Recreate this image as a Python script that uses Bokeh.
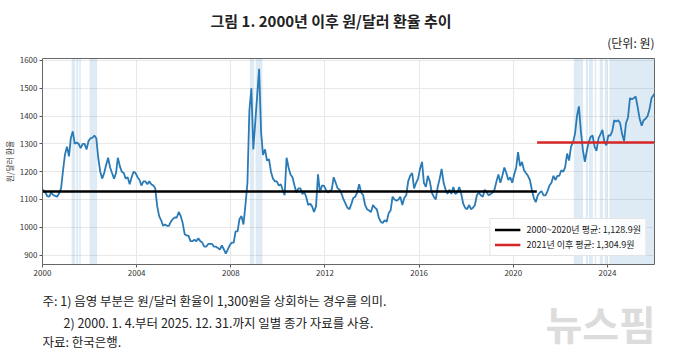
import pandas as pd
from bokeh.plotting import figure
from bokeh.layouts import column
from bokeh.models import Label, FixedTicker, DatetimeTickFormatter, Range1d, ColumnDataSource
from bokeh.embed import file_html
from bokeh.resources import INLINE

# ---- data: month-by-month USD/KRW ----
krw_2000 = [1135, 1125, 1112, 1110, 1125, 1116, 1113, 1110, 1122, 1140, 1205, 1262]
krw_2001 = [1290, 1255, 1320, 1345, 1300, 1305, 1300, 1285, 1300, 1300, 1280, 1310]
krw_2002 = [1320, 1322, 1330, 1320, 1250, 1200, 1175, 1195, 1225, 1250, 1215, 1195]
krw_2003 = [1175, 1195, 1250, 1220, 1200, 1195, 1175, 1180, 1155, 1180, 1200, 1195]
krw_2004 = [1180, 1170, 1150, 1165, 1165, 1155, 1165, 1155, 1150, 1140, 1075, 1040]
krw_2005 = [1025, 1005, 1010, 1005, 1005, 1020, 1030, 1035, 1035, 1055, 1040, 1015]
krw_2006 = [975, 970, 970, 950, 950, 955, 950, 960, 950, 945, 930, 930]
krw_2007 = [940, 940, 940, 930, 930, 925, 920, 935, 920, 905, 920, 935]
krw_2008 = [945, 945, 985, 985, 1030, 1040, 1010, 1080, 1160, 1420, 1500, 1280]
krw_2009 = [1380, 1480, 1570, 1340, 1260, 1280, 1240, 1245, 1200, 1175, 1165, 1165]
krw_2010 = [1150, 1155, 1135, 1115, 1250, 1215, 1190, 1180, 1150, 1125, 1140, 1140]
krw_2011 = [1120, 1125, 1110, 1080, 1085, 1075, 1055, 1075, 1190, 1125, 1150, 1150]
krw_2012 = [1135, 1125, 1130, 1135, 1180, 1160, 1140, 1135, 1120, 1100, 1085, 1070]
krw_2013 = [1065, 1085, 1105, 1110, 1125, 1155, 1125, 1115, 1080, 1065, 1060, 1055]
krw_2014 = [1080, 1070, 1065, 1035, 1020, 1015, 1025, 1020, 1050, 1060, 1110, 1100]
krw_2015 = [1095, 1100, 1110, 1080, 1105, 1115, 1165, 1185, 1195, 1140, 1160, 1175]
krw_2016 = [1210, 1235, 1160, 1145, 1185, 1165, 1125, 1110, 1100, 1145, 1175, 1210]
krw_2017 = [1160, 1135, 1120, 1135, 1120, 1145, 1120, 1125, 1145, 1120, 1085, 1070]
krw_2018 = [1065, 1080, 1065, 1070, 1080, 1115, 1125, 1115, 1110, 1135, 1125, 1115]
krw_2019 = [1120, 1125, 1135, 1165, 1190, 1160, 1185, 1215, 1195, 1170, 1180, 1160]
krw_2020 = [1190, 1215, 1270, 1220, 1235, 1205, 1195, 1185, 1170, 1135, 1105, 1090]
krw_2021 = [1115, 1125, 1130, 1115, 1115, 1130, 1150, 1160, 1185, 1170, 1185, 1185]
krw_2022 = [1205, 1200, 1215, 1265, 1240, 1290, 1305, 1335, 1400, 1435, 1345, 1280]
krw_2023 = [1235, 1275, 1305, 1325, 1330, 1290, 1275, 1320, 1335, 1350, 1305, 1295]
krw_2024 = [1330, 1330, 1345, 1385, 1380, 1385, 1375, 1335, 1310, 1375, 1395, 1465]
krw_2025 = [1460, 1465, 1470, 1430, 1390, 1365, 1385, 1390, 1400, 1425, 1465, 1480]

yearly = [krw_2000, krw_2001, krw_2002, krw_2003, krw_2004, krw_2005, krw_2006,
          krw_2007, krw_2008, krw_2009, krw_2010, krw_2011, krw_2012, krw_2013,
          krw_2014, krw_2015, krw_2016, krw_2017, krw_2018, krw_2019, krw_2020,
          krw_2021, krw_2022, krw_2023, krw_2024, krw_2025]

# periods where the rate was above 1,300 won (shaded)
shade_start = ["2001-03-28", "2001-06-06", "2001-07-24", "2002-01-02",
               "2008-10-23", "2009-01-19",
               "2022-07-28", "2023-01-30", "2023-03-21", "2023-06-17",
               "2023-09-02", "2023-11-20", "2024-01-30"]
shade_end = ["2001-05-22", "2001-07-09", "2001-08-18", "2002-04-27",
             "2008-12-27", "2009-05-05",
             "2022-12-20", "2023-03-07", "2023-05-19", "2023-07-10",
             "2023-10-25", "2023-12-31", "2025-12-31"]

avg_periods = [("2000-01-04", "2020-12-31"), ("2021-01-04", "2025-12-31")]
avg_values = [1128.9, 1304.9]
avg_labels = ["2000~2020년 평균: 1,128.9원", "2021년 이후 평균: 1,304.9원"]
avg_colors = ["#000000", "#d62728"]

y_ticks = [900, 1000, 1100, 1200, 1300, 1400, 1500, 1600]
x_tick_years = [2000, 2004, 2008, 2012, 2016, 2020, 2024]

title_text = "그림 1. 2000년 이후 원/달러 환율 추이"
unit_text = "(단위: 원)"
y_label = "원/달러 환율"
notes = ["주: 1) 음영 부분은 원/달러 환율이 1,300원을 상회하는 경우를 의미.",
         "2) 2000. 1. 4.부터 2025. 12. 31.까지 일별 종가 자료를 사용.",
         "자료: 한국은행."]
watermark = "뉴스핌"

FONT = "Noto Sans CJK KR"
W = 672
FL, FR = 41, 654          # plot-frame left / right (page px)
TOP_H, MAIN_H, BOT_H = 52, 234, 70


def blank(h):
    f = figure(width=W, height=h, x_range=Range1d(FL, FR), y_range=Range1d(0, h),
               output_backend="svg", toolbar_location=None,
               x_axis_type=None, y_axis_type=None, min_border=0,
               min_border_left=FL, min_border_right=W - FR)
    f.outline_line_color = None
    f.xgrid.visible = False
    f.ygrid.visible = False
    return f


def add_text(f, txt, x, y, size, align="left", bold=False, color="#222222"):
    f.add_layout(Label(x=x, y=y, text=txt, text_font=FONT, text_font_size=size,
                       text_align=align, text_baseline="middle", text_color=color,
                       text_font_style="bold" if bold else "normal"))


# ---- header ----
top = blank(TOP_H)
add_text(top, title_text, 330, TOP_H - 19.5, "15px", align="center", bold=True)
add_text(top, unit_text, 654, TOP_H - 41.5, "12px", align="right")

# ---- main chart ----
values = [v for yr in yearly for v in yr]
dates = list(pd.date_range("2000-01-01", periods=len(values), freq="MS") + pd.Timedelta(days=14))
dates[0] = pd.Timestamp("2000-01-04")
dates[-1] = pd.Timestamp("2025-12-31")
src = ColumnDataSource(dict(date=dates, rate=values))

y0, y1 = 866, 1607
p = figure(width=W, height=MAIN_H, x_axis_type="datetime",
           x_range=Range1d(pd.Timestamp("2000-01-01"), pd.Timestamp("2025-12-31")),
           y_range=Range1d(y0, y1),
           output_backend="svg", toolbar_location=None,
           min_border_left=FL, min_border_right=W - FR, min_border_top=6, min_border_bottom=22)
p.outline_line_color = "#666666"

ss = pd.to_datetime(shade_start)
se = pd.to_datetime(shade_end)
p.quad(left=ss, right=se, bottom=[y0] * len(ss), top=[y1] * len(ss),
       fill_color="#1f77b4", fill_alpha=0.15, line_color=None)

p.line("date", "rate", source=src, line_color="#2a7ab6", line_width=1.8)

for (a, b), v, lab, c in zip(avg_periods, avg_values, avg_labels, avg_colors):
    p.line([pd.Timestamp(a), pd.Timestamp(b)], [v, v], line_color=c, line_width=2.5,
           legend_label=lab)

p.xaxis.ticker = FixedTicker(ticks=[pd.Timestamp(f"{y}-01-01").value / 1e6 for y in x_tick_years])
p.xaxis.formatter = DatetimeTickFormatter(years="%Y", months="%Y", days="%Y", hours="%Y")
p.yaxis.ticker = FixedTicker(ticks=y_ticks)
p.yaxis.axis_label = y_label
p.yaxis.axis_label_text_font = FONT
p.yaxis.axis_label_text_font_size = "8px"
p.yaxis.axis_label_text_font_style = "normal"
p.yaxis.axis_label_text_color = "#333333"
p.yaxis.axis_label_standoff = 2
for ax in (p.xaxis, p.yaxis):
    ax.axis_line_color = None
    ax.major_tick_line_color = "#555555"
    ax.major_tick_in = 0
    ax.major_tick_out = 3
    ax.minor_tick_line_color = None
    ax.major_label_text_font = FONT
    ax.major_label_text_font_size = "8px"
    ax.major_label_text_color = "#333333"
    ax.major_label_standoff = 2
p.xgrid.grid_line_color = "#e8e8e8"
p.ygrid.grid_line_color = "#e8e8e8"

lg = p.legend[0]
lg.location = "bottom_right"
lg.label_text_font = FONT
lg.label_text_font_size = "9px"
lg.label_text_color = "#222222"
lg.glyph_width = 26
lg.glyph_height = 11
lg.label_height = 11
lg.label_standoff = 6
lg.padding = 4
lg.spacing = 2
lg.margin = 8
lg.border_line_color = "#cccccc"
lg.background_fill_alpha = 0.9

# ---- footer ----
bot = blank(BOT_H)
add_text(bot, notes[0], 41, BOT_H - 14, "12.5px")
add_text(bot, notes[1], 62, BOT_H - 36, "12.5px")
add_text(bot, notes[2], 41, BOT_H - 55, "12.5px")
add_text(bot, watermark, 600, BOT_H - 36, "40px", align="center", bold=True, color="#dcdcdc")

layout = column(top, p, bot, spacing=0)
open("out.html", "w").write(file_html(layout, INLINE))
